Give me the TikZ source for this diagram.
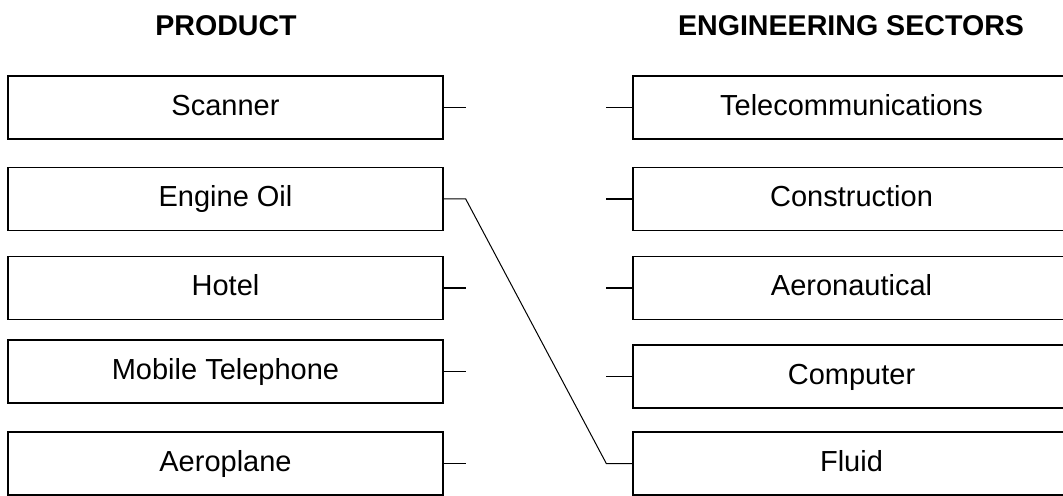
\documentclass[tikz,border=0pt]{standalone}
\usepackage{fontspec}
\setmainfont{Liberation Sans}
\tikzset{
    prodbox/.style={draw, line width=0.7pt, minimum width=217.5pt, minimum height=31.5pt, inner sep=0pt, text height=1.6ex, text depth=0.1ex, font=\fontsize{14.5}{17}\selectfont},
    secbox/.style={prodbox, minimum width=218.5pt},
    heading/.style={font=\fontsize{14.3}{17}\selectfont\bfseries},
    stub/.style={line width=0.7pt},
    link/.style={line width=0.5pt},
}
\begin{document}
\begin{tikzpicture}[x=0.5pt, y=-0.5pt]
        \useasboundingbox (0,0) rectangle (1063,496);

            % headings
            \node[heading] (hp) at (226,26) {PRODUCT};
            \node[heading] (hs) at (851,26) {ENGINEERING SECTORS};

            % products
            \node[prodbox] (sc) at (225.5,107.5) {Scanner};
            \node[prodbox] (eo) at (225.5,199) {Engine Oil};
            \node[prodbox] (ho) at (225.5,288) {Hotel};
            \node[prodbox] (mt) at (225.5,371.5) {Mobile Telephone};
            \node[prodbox] (ap) at (225.5,463.5) {Aeroplane};

            % sectors
            \node[secbox] (tc) at (851.5,107.5) {Telecommunications};
            \node[secbox] (cs) at (851.5,199) {Construction};
            \node[secbox] (an) at (851.5,288) {Aeronautical};
            \node[secbox] (cp) at (851.5,376.5) {Computer};
            \node[secbox] (fl) at (851.5,463.5) {Fluid};

            % stubs
            \draw[stub] (sc.east) -- ++(22,0);
            \draw[stub] (ho.east) -- ++(22,0);
            \draw[stub] (mt.east) -- ++(22,0);
            \draw[stub] (ap.east) -- ++(22,0);
            \draw[stub] (tc.west) -- ++(-26,0);
            \draw[stub] (cs.west) -- ++(-26,0);
            \draw[stub] (an.west) -- ++(-26,0);
            \draw[stub] (cp.west) -- ++(-26,0);

            % matched pair
            \coordinate (eo1) at ([xshift=11pt]eo.east);
            \coordinate (fl1) at ([xshift=-13pt]fl.west);
            \draw[link] (eo.east) -- (eo1) -- (fl1) -- (fl.west);

        \end{tikzpicture}
\end{document}
